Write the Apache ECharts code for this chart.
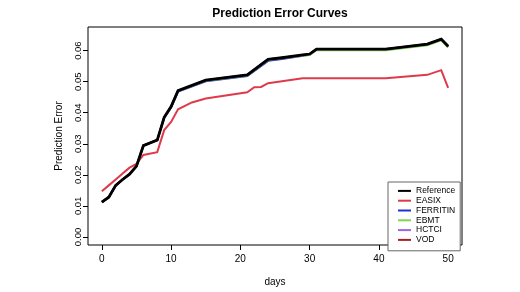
<!DOCTYPE html>
<html>
<head>
<meta charset="utf-8">
<script src="https://cdn.jsdelivr.net/npm/echarts@6/dist/echarts.min.js"></script>
<style>html,body{margin:0;padding:0;background:#fff}#c{width:520px;height:292px}</style>
</head>
<body>
<div id="c"></div>
<script>
var seriesNames = ['Reference', 'EASIX', 'FERRITIN', 'EBMT', 'HCTCI', 'VOD'];
var xTicks = [0, 10, 20, 30, 40, 50];
var yTicks = [0, 0.01, 0.02, 0.03, 0.04, 0.05, 0.06];

var refDays = [0, 1, 2, 3, 4, 5, 6, 8, 9, 10, 11, 15, 21, 24, 26, 29, 30, 31, 41, 47, 49, 50];
var refVals = [0.0112, 0.0128, 0.0166, 0.0185, 0.0202, 0.0228, 0.0294, 0.0312, 0.0385, 0.0420, 0.0471, 0.0505, 0.0522, 0.0572, 0.0577, 0.0586, 0.0589, 0.0605, 0.0605, 0.0621, 0.0637, 0.0614];

var easixDays = [0, 1, 2, 3, 4, 5, 6, 8, 9, 10, 11, 13, 15, 21, 22, 23, 24, 26, 29, 41, 47, 49, 50];
var easixVals = [0.0147, 0.0166, 0.0185, 0.0204, 0.0223, 0.0235, 0.0264, 0.0273, 0.0344, 0.0370, 0.0411, 0.0433, 0.0446, 0.0466, 0.0482, 0.0483, 0.0495, 0.0501, 0.0511, 0.0511, 0.0522, 0.0537, 0.0480];

var ferritinVals = [0.0112, 0.0128, 0.0166, 0.0185, 0.0202, 0.0228, 0.0294, 0.0311, 0.0383, 0.0417, 0.0468, 0.0501, 0.0518, 0.0567, 0.0573, 0.0583, 0.0587, 0.0603, 0.0603, 0.0619, 0.0635, 0.0612];
var ebmtVals = [0.0112, 0.0128, 0.0166, 0.0185, 0.0202, 0.0228, 0.0294, 0.0311, 0.0384, 0.0419, 0.0470, 0.0503, 0.0520, 0.0570, 0.0575, 0.0583, 0.0586, 0.0601, 0.0601, 0.0617, 0.0633, 0.0610];
var hctciVals = [0.0112, 0.0128, 0.0166, 0.0185, 0.0202, 0.0228, 0.0294, 0.0312, 0.0385, 0.0419, 0.0470, 0.0504, 0.0521, 0.0571, 0.0576, 0.0585, 0.0588, 0.0604, 0.0604, 0.0620, 0.0636, 0.0613];
var vodVals = [0.0112, 0.0128, 0.0166, 0.0185, 0.0202, 0.0228, 0.0294, 0.0312, 0.0385, 0.0420, 0.0471, 0.0505, 0.0522, 0.0572, 0.0577, 0.0586, 0.0589, 0.0605, 0.0605, 0.0621, 0.0637, 0.0614];

function pairs(xs, ys) { return xs.map(function (x, i) { return [x, ys[i]]; }); }

var FONT = 'Liberation Sans, Arial, Helvetica, sans-serif';
var chart = echarts.init(document.getElementById('c'), null, {renderer: 'canvas'});

function line(name, days, vals, color, width) {
  return {
    name: name, type: 'line', data: pairs(days, vals), showSymbol: false, symbol: 'none',
    animation: false, lineStyle: {color: color, width: width, join: 'miter'}, itemStyle: {color: color},
    emphasis: {disabled: true}
  };
}

chart.setOption({
  animation: false,
  backgroundColor: '#fff',
  textStyle: {fontFamily: FONT},
  title: {
    text: 'Prediction Error Curves', left: 275, top: 3, textAlign: 'center',
    textStyle: {fontFamily: FONT, fontSize: 12, fontWeight: 'bold', color: '#000'}
  },
  grid: {left: 88, right: 58, top: 27, bottom: 41, show: true, borderColor: '#000', borderWidth: 1, backgroundColor: 'transparent'},
  legend: {
    orient: 'vertical', left: 388, top: 182,
    data: seriesNames, icon: 'rect', itemWidth: 13, itemHeight: 2, itemGap: 0,
    padding: [4, 5, 6, 10], borderColor: '#666', borderWidth: 1, backgroundColor: '#fff',
    selectedMode: false,
    textStyle: {fontFamily: FONT, fontSize: 8.5, color: '#000', lineHeight: 9.8, padding: [0, 0, 0, 0]}
  },
  xAxis: {
    type: 'value', min: -2, max: 52,
    name: 'days', nameLocation: 'middle', nameGap: 32,
    nameTextStyle: {fontFamily: FONT, fontSize: 10, color: '#000'},
    axisLine: {show: false, onZero: false},
    splitLine: {show: false},
    axisTick: {show: true, length: 5, lineStyle: {color: '#000'}, customValues: xTicks},
    axisLabel: {fontFamily: FONT, fontSize: 10, color: '#000', margin: 9, customValues: xTicks}
  },
  yAxis: {
    type: 'value', min: -0.0026, max: 0.0676,
    name: 'Prediction Error', nameLocation: 'middle', nameGap: 24,
    nameTextStyle: {fontFamily: FONT, fontSize: 10, color: '#000'},
    axisLine: {show: false, onZero: false},
    splitLine: {show: false},
    axisTick: {show: true, length: 5, lineStyle: {color: '#000'}, customValues: yTicks},
    axisLabel: {fontFamily: FONT, fontSize: 9.5, color: '#000', margin: 5, rotate: 90,
      customValues: yTicks, formatter: function (v) { return v.toFixed(2); }}
  },
  series: [
    line('EASIX', easixDays, easixVals, '#DF3A4A', 2),
    line('FERRITIN', refDays, ferritinVals, '#2233CC', 2),
    line('EBMT', refDays, ebmtVals, '#7ED84A', 2),
    line('HCTCI', refDays, hctciVals, '#9966EE', 2),
    line('VOD', refDays, vodVals, '#A82222', 2),
    line('Reference', refDays, refVals, '#000000', 2.8)
  ]
});
</script>
</body>
</html>
